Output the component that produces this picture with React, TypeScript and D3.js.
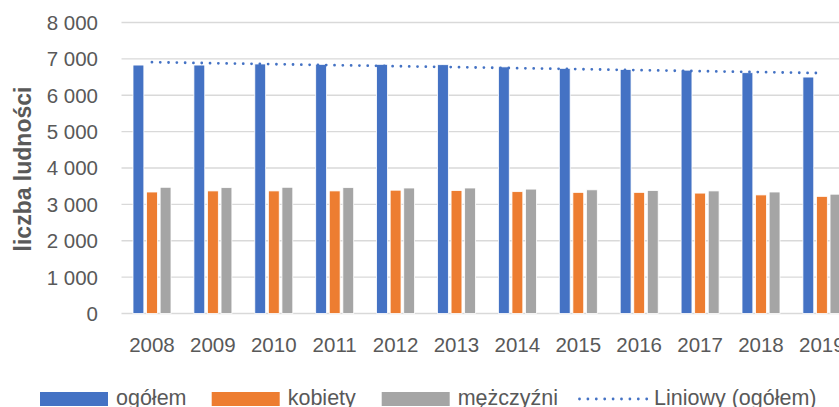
import React from 'react';
import * as d3 from 'd3';

// data
const years = ['2008', '2009', '2010', '2011', '2012', '2013', '2014', '2015', '2016', '2017', '2018', '2019'];
const ogolem = [6830, 6830, 6860, 6850, 6850, 6840, 6780, 6740, 6710, 6690, 6620, 6500];
const kobiety = [3340, 3370, 3370, 3370, 3390, 3380, 3350, 3330, 3330, 3310, 3260, 3220];
const mezczyzni = [3470, 3460, 3470, 3460, 3450, 3450, 3420, 3400, 3380, 3370, 3340, 3280];
const yTicks = [0, 1000, 2000, 3000, 4000, 5000, 6000, 7000, 8000];

const seriesNames = ['ogółem', 'kobiety', 'mężczyźni'];
const seriesColors = ['#4472C4', '#ED7D31', '#A5A5A5'];
const trendName = 'Liniowy (ogółem)';
const yTitle = 'liczba ludności';

const W = 839;
const H = 407;
const FONT = '"Liberation Sans", Arial, sans-serif';
const TEXT = '#595959';
const GRID = '#d9d9d9';

const fmt = d3.formatLocale({ decimal: ',', thousands: ' ', grouping: [3], currency: ['', ''] }).format(',d');

export default function App() {
  const plotLeft = 121.5;
  const step = 60.9;

  const x = d3.scaleBand<string>().domain(years).range([plotLeft, plotLeft + step * years.length]);
  const x1 = d3.scaleBand<string>().domain(seriesNames).range([11.5, 49.5]).paddingInner(0.2);
  const y = d3.scaleLinear().domain([0, 8000]).range([313.5, 22.5]);

  const series = [ogolem, kobiety, mezczyzni];

  // linear trend of "ogółem" (least squares, like Excel)
  const idx = years.map((_, i) => i);
  const mx = d3.mean(idx)!;
  const my = d3.mean(ogolem)!;
  const slope = d3.sum(idx, (i) => (i - mx) * (ogolem[i] - my)) / d3.sum(idx, (i) => (i - mx) ** 2);
  const trend = idx.map((i) => my + slope * (i - mx));
  const trendLine = d3
    .line<number>()
    .x((_, i) => x(years[i])! + x.bandwidth() / 2)
    .y((d) => y(d));

  // legend layout
  const legendItems = [
    { x: 40, label: seriesNames[0], color: seriesColors[0], type: 'rect' },
    { x: 211.7, label: seriesNames[1], color: seriesColors[1], type: 'rect' },
    { x: 381.7, label: seriesNames[2], color: seriesColors[2], type: 'rect' },
    { x: 578, label: trendName, color: seriesColors[0], type: 'line' },
  ];

  return (
    <svg
      width={W}
      height={H}
      style={{ position: 'absolute', left: 0, top: 0, background: '#fff', fontFamily: FONT }}
    >
      {/* gridlines */}
      {yTicks.map((t) => (
        <line key={t} x1={plotLeft} x2={W} y1={y(t)} y2={y(t)} stroke={GRID} strokeWidth={1.3} />
      ))}

      {/* y tick labels */}
      {yTicks.map((t) => (
        <text key={t} x={98} y={y(t)} dy="0.36em" textAnchor="end" fontSize={20.5} fill={TEXT}>
          {fmt(t)}
        </text>
      ))}

      {/* y title */}
      <text
        transform={`translate(31,169) rotate(-90)`}
        textAnchor="middle"
        fontSize={23}
        fontWeight="bold"
        fill={TEXT}
      >
        {yTitle}
      </text>

      {/* bars */}
      {years.map((yr, i) => (
        <g key={yr} transform={`translate(${x(yr)},0)`}>
          {series.map((s, k) => (
            <rect
              key={k}
              x={x1(seriesNames[k])}
              y={y(s[i])}
              width={x1.bandwidth()}
              height={y(0) - y(s[i])}
              fill={seriesColors[k]}
              stroke="#fff"
              strokeWidth={0.8}
            />
          ))}
        </g>
      ))}

      {/* trend line */}
      <path
        d={trendLine(trend) || ''}
        fill="none"
        stroke={seriesColors[0]}
        strokeWidth={2.8}
        strokeDasharray="0 8.3"
        strokeLinecap="round"
      />

      {/* x tick labels */}
      {years.map((yr) => (
        <text key={yr} x={x(yr)! + x.bandwidth() / 2} y={351.5} textAnchor="middle" fontSize={20.5} fill={TEXT}>
          {yr}
        </text>
      ))}

      {/* legend */}
      {legendItems.map((it) => (
        <g key={it.label}>
          {it.type === 'rect' ? (
            <rect x={it.x} y={392} width={68} height={14} fill={it.color} />
          ) : (
            <line
              x1={it.x + 1.5}
              x2={it.x + 69}
              y1={399}
              y2={399}
              stroke={it.color}
              strokeWidth={2.8}
              strokeDasharray="0 8.4"
              strokeLinecap="round"
            />
          )}
          <text x={it.x + 76} y={404.5} fontSize={21.5} fill={TEXT}>
            {it.label}
          </text>
        </g>
      ))}
    </svg>
  );
}
